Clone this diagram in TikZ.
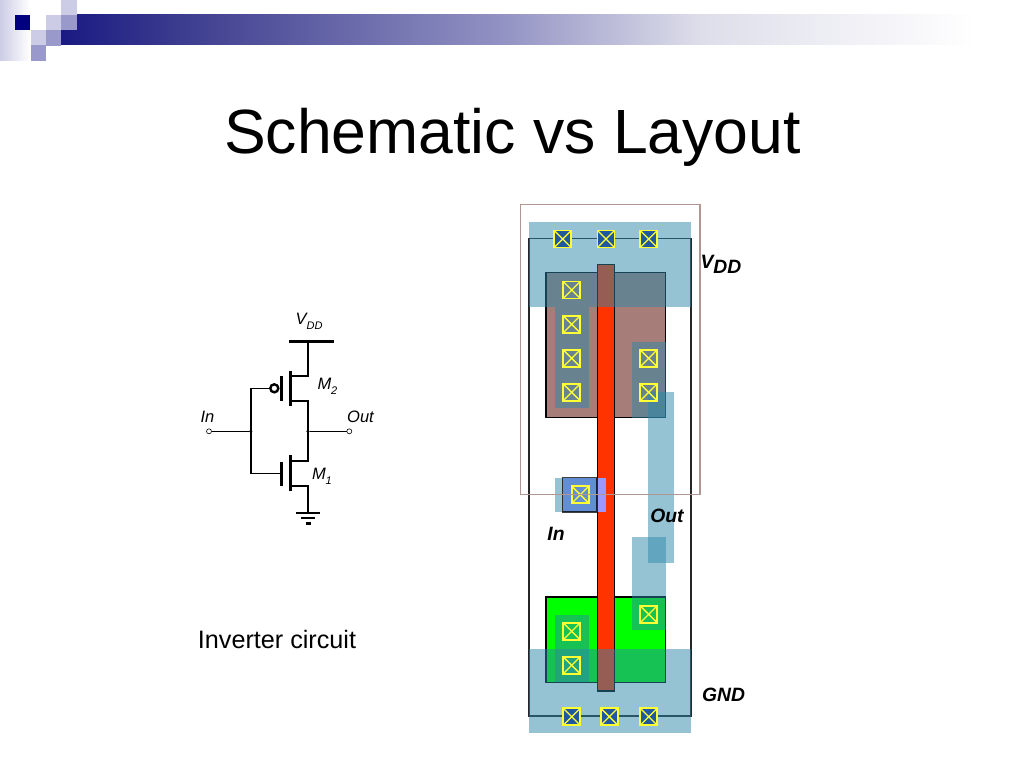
\documentclass[tikz,border=0pt]{standalone}
\usepackage{fontspec}
\setmainfont{Liberation Sans}
\definecolor{navyd}{RGB}{0,0,128}
\definecolor{sqlight}{RGB}{204,204,230}
\definecolor{sqmid}{RGB}{153,153,204}
\definecolor{metalc}{RGB}{45,135,169}
\definecolor{pact}{RGB}{166,125,120}
\definecolor{nact}{RGB}{0,255,0}
\definecolor{polyc}{RGB}{255,51,0}
\definecolor{polycon}{RGB}{153,153,255}
\definecolor{contactc}{RGB}{255,255,51}
\definecolor{contblue}{RGB}{32,88,160}
\definecolor{outlinebox}{RGB}{178,150,145}
\pgfdeclarehorizontalshading{barfade}{100bp}{rgb(0bp)=(0.10,0.10,0.51);
 rgb(25bp)=(0.10,0.10,0.51);
 rgb(32.5bp)=(0.255,0.255,0.57);
 rgb(49bp)=(0.57,0.57,0.765);
 rgb(60bp)=(0.87,0.87,0.92);
 rgb(75bp)=(1,1,1);
 rgb(100bp)=(1,1,1)}
\tikzset{
 x=1pt,y=-1pt,
 sq/.style={minimum size=15.3pt,inner sep=0pt,outer sep=0pt,draw=none},
 layer/.style={inner sep=0pt,outer sep=0pt},
 metal/.style={fill=metalc,fill opacity=.5,draw=none},
 xbox/.style={draw=contactc,line width=1.5pt,minimum size=17pt,inner sep=0pt,outer sep=0pt,
   path picture={\draw[contactc,line width=1.3pt]
     (path picture bounding box.north west)--(path picture bounding box.south east)
     (path picture bounding box.north east)--(path picture bounding box.south west);}},
 railcon/.style={xbox,fill=contblue},
 wire/.style={line width=1.6pt,line cap=rect},
 chan/.style={line width=3pt},
 term/.style={circle,draw,fill=white,line width=.6pt,minimum size=5pt,inner sep=0pt,outer sep=0pt},
 dotj/.style={circle,fill=black,minimum size=3.5pt,inner sep=0pt,outer sep=0pt},
 lab/.style={inner sep=0pt,outer sep=0pt,font=\fontsize{16.5}{16.5}\selectfont\itshape},
 blab/.style={inner sep=0pt,outer sep=0pt,font=\fontsize{19.3}{19.3}\selectfont\bfseries\itshape},
}
\newcommand{\subsc}[2]{#1\raisebox{-0.32em}{\fontsize{#2}{#2}\selectfont\itshape DD}}
\begin{document}
\begin{tikzpicture}
\useasboundingbox (0,0) rectangle (1024,768);
% ---- header decoration
\shade[left color=sqlight,right color=white,draw=none] (0,0) rectangle (30,60);
\fill[white] (15,15) rectangle (46,30);
\shade[shading=barfade,draw=none] (61,15) rectangle (975,45);
\fill[white] (61,15) rectangle (77,30);
\node[sq,fill=navyd] (s1) at (22.5,22.5) {};
\node[sq,fill=sqlight] (s2) at (69,7.5) {};
\node[sq,fill=sqlight] (s3) at (53.5,22.5) {};
\node[sq,fill=sqmid] (s4) at (69,22.5) {};
\node[sq,fill=sqlight] (s5) at (38.5,38) {};
\node[sq,fill=sqmid] (s6) at (53.5,38) {};
\node[sq,fill=sqmid] (s7) at (38.5,53) {};
% ---- title
\node[inner sep=0pt,anchor=base,font=\fontsize{62.5}{62.5}\selectfont] (title) at (512.5,153) {Schematic vs Layout};
\node[inner sep=0pt,anchor=base,font=\fontsize{25.2}{25.2}\selectfont] (caption) at (277,648) {Inverter circuit};
% ---- schematic
\coordinate (vddL) at (289.3,341.7); \coordinate (vddR) at (334,341.7); \coordinate (vddM) at (308,341.7);
\coordinate (pS) at (308,376); \coordinate (pSi) at (290,376);
\coordinate (pD) at (308,400.7); \coordinate (pDi) at (290,400.7);
\coordinate (pBarT) at (290,370.7); \coordinate (pBarB) at (290,406);
\coordinate (pGT) at (281,376); \coordinate (pGB) at (281,400.5);
\coordinate (nD) at (308,460.7); \coordinate (nDi) at (290,460.7);
\coordinate (nS) at (308,486); \coordinate (nSi) at (290,486);
\coordinate (nBarT) at (290,455); \coordinate (nBarB) at (290,491.3);
\coordinate (nGT) at (281,462); \coordinate (nGB) at (281,486);
\coordinate (nGw) at (281,473.3); \coordinate (nGc) at (250.7,473.3);
\coordinate (pGc) at (250.7,388.3);
\coordinate (g1L) at (296,513.3); \coordinate (g1R) at (320,513.3); \coordinate (g1M) at (308,513.3);
\coordinate (g2L) at (301.3,518.3); \coordinate (g2R) at (315.3,518.3);
\coordinate (g3L) at (306,523.3); \coordinate (g3R) at (310.7,523.3);
\node[term] (inT) at (209,431.3) {};
\node[term] (outT) at (349.3,431.3) {};
\node[dotj] (inJ) at (250.7,431.3) {};
\node[dotj] (outJ) at (308,431.3) {};
\node[circle,draw,line width=2.4pt,minimum size=8pt,inner sep=0pt,outer sep=0pt] (bub) at (274.3,388.3) {};
\draw[line width=3pt] (vddL)--(vddR);
\draw[wire] (vddM)--(pS)--(pSi);
\draw[wire] (pDi)--(pD)--(nD)--(nDi);
\draw[wire] (nSi)--(nS)--(g1M);
\draw[chan] (pBarT)--(pBarB);
\draw[chan] (pGT)--(pGB);
\draw[chan] (nBarT)--(nBarB);
\draw[chan] (nGT)--(nGB);
\draw[wire] (bub.west)--(pGc)--(nGc)--(nGw);
\draw[wire,line cap=butt] (inT)--(inJ);
\draw[wire,line cap=butt] (outJ)--(outT);
\draw[line width=2.2pt] (g1L)--(g1R);
\draw[line width=2.2pt] (g2L)--(g2R);
\draw[line width=2.4pt] (g3L)--(g3R);
\node[lab] (lV) at (309,321.5) {\subsc{V}{11}};
\node[lab] (lIn) at (207.5,416.5) {In};
\node[lab] (lOut) at (360.5,416.5) {Out};
\node[lab,anchor=west] (lM2) at (317.5,386) {M\raisebox{-0.3em}{\fontsize{11}{11}\selectfont 2}};
\node[lab,anchor=west] (lM1) at (312,476) {M\raisebox{-0.3em}{\fontsize{11}{11}\selectfont 1}};
% ---- layout
\node[layer,draw=black!85,line width=1.5pt,minimum width=162pt,minimum height=477.7pt] (well) at (610,477.2) {};
\node[layer,draw=black,line width=1.3pt,fill=pact,minimum width=119.7pt,minimum height=145pt] (pa) at (605.85,345.2) {};
\node[layer,draw=black,line width=1.3pt,fill=nact,minimum width=119.7pt,minimum height=85.3pt] (na) at (605.85,639.65) {};
\node[layer,draw=black,line width=1.3pt,fill=polyc,minimum width=17.4pt,minimum height=426.7pt] (poly) at (606,477.65) {};
\fill[polycon] (562.7,477.7) rectangle (606,512);
% metal
\fill[metal] (529,221.7) rectangle (691,307);
\fill[metal] (529,649) rectangle (691,733.3);
\fill[metal] (555,307) rectangle (588.7,408.3);
\fill[metal] (631.7,341.7) rectangle (665.7,417.7);
\fill[metal] (648.3,392.3) rectangle (673.7,562.7);
\fill[metal] (631.7,537.3) rectangle (665.7,630);
\fill[metal] (555,615) rectangle (588.7,682);
\fill[metal] (554.7,477.7) rectangle (597,512);
\draw[black,line width=1.3pt,draw opacity=.75] (562.7,477.7) rectangle (597,512);
% contacts
\node[railcon] (c1) at (562.7,239) {};
\node[railcon] (c2) at (606,239) {};
\node[railcon] (c3) at (648.7,239) {};
\node[railcon] (c4) at (571.7,716.7) {};
\node[railcon] (c5) at (609.3,716.7) {};
\node[railcon] (c6) at (648.7,716.7) {};
\node[xbox] (p1) at (571.7,290) {};
\node[xbox] (p2) at (571.7,324.3) {};
\node[xbox] (p3) at (571.7,358.3) {};
\node[xbox] (p4) at (571.7,392.3) {};
\node[xbox] (p5) at (648.7,358.3) {};
\node[xbox] (p6) at (648.7,392.3) {};
\node[xbox] (gc) at (580.3,494.7) {};
\node[xbox] (n1) at (648.7,614.3) {};
\node[xbox] (n2) at (571.7,631.3) {};
\node[xbox] (n3) at (571.7,665.3) {};
% outline
\node[layer,draw=outlinebox,line width=1.6pt,minimum width=179.4pt,minimum height=290pt] (cell) at (610,349.3) {};
% labels
\node[blab,anchor=base west] (lvdd) at (700.5,268) {V\raisebox{-0.3em}{DD}};
\node[blab] (lout) at (667,516) {Out};
\node[blab] (lin) at (556,533.5) {In};
\node[blab] (lgnd) at (723.5,695) {GND};
\end{tikzpicture}
\end{document}
